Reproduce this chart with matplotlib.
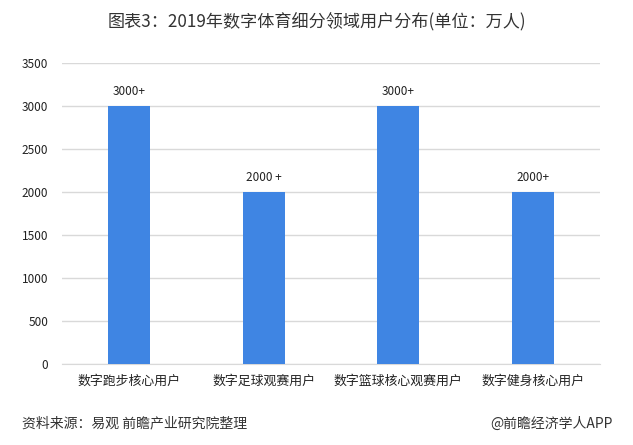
import matplotlib.pyplot as plt

plt.rcParams['font.family'] = ['Noto Sans CJK SC', 'DejaVu Sans']

categories = ['数字跑步核心用户', '数字足球观赛用户', '数字篮球核心观赛用户', '数字健身核心用户']
values = [3000, 2000, 3000, 2000]
bar_labels = ['3000+', '2000 +', '3000+', '2000+']
yticks = [0, 500, 1000, 1500, 2000, 2500, 3000, 3500]

fig = plt.figure(figsize=(6.33, 4.45), dpi=100)
ax = fig.add_axes([0.098, 0.182, 0.85, 0.676])

x = range(len(categories))
bars = ax.bar(x, values, width=0.31, color='#3f85e3', zorder=3)
for b, lab in zip(bars, bar_labels):
    ax.text(b.get_x() + b.get_width() / 2, b.get_height() + 90, lab,
            ha='center', va='bottom', fontsize=8.5, color='#222222')

ax.set_xlim(-0.5, len(categories) - 0.5)
ax.set_ylim(0, 3500)
ax.set_yticks(yticks)
ax.set_yticklabels([str(t) for t in yticks], fontsize=8.5, color='#222222')
ax.set_xticks(list(x))
ax.set_xticklabels(categories, fontsize=9.3, color='#222222')
ax.tick_params(length=0)
ax.tick_params(axis='y', pad=10)
ax.tick_params(axis='x', pad=8)
ax.grid(axis='y', color='#d9d9d9', linewidth=1, zorder=0)
for s in ['top', 'right', 'left']:
    ax.spines[s].set_visible(False)
ax.spines['bottom'].set_color('#d9d9d9')

fig.text(0.5, 0.95, '图表3：2019年数字体育细分领域用户分布(单位：万人)',
         ha='center', va='center', fontsize=12.3, color='#333333')
fig.text(0.035, 0.048, '资料来源：易观 前瞻产业研究院整理',
         ha='left', va='center', fontsize=10, color='#333333')
fig.text(0.968, 0.048, '@前瞻经济学人APP',
         ha='right', va='center', fontsize=10, color='#333333')

fig.savefig('out.png', dpi=100)
